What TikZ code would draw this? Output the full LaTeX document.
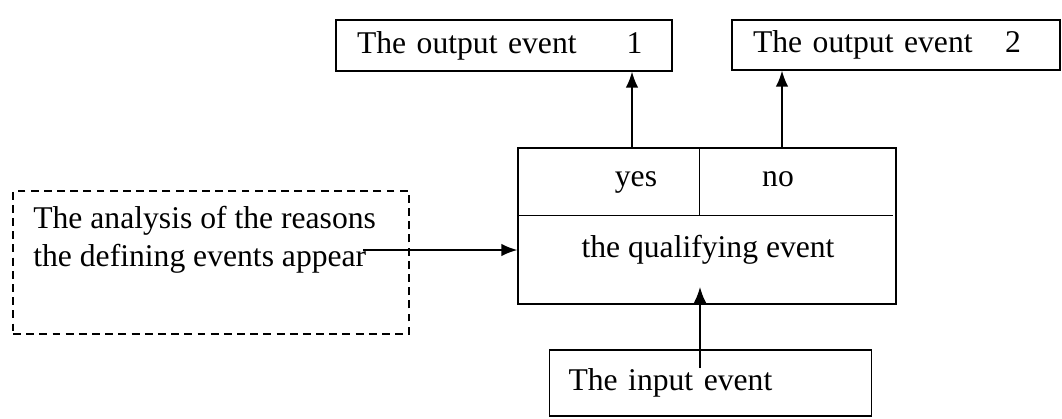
\documentclass[tikz,border=0pt]{standalone}
\usepackage{fontspec}
\setmainfont{Liberation Serif}
\usetikzlibrary{arrows.meta}

\tikzset{
	box/.style={draw, line width=0.8pt, inner sep=0pt},
	dashbox/.style={draw, line width=0.8pt, dash pattern=on 4.5pt off 3pt, inner sep=0pt},
	flow/.style={line width=0.8pt, -{Latex[length=9pt,width=7pt]}}
}

\begin{document}
\begin{tikzpicture}[font=\fontsize{18}{21.5}\selectfont]
		\useasboundingbox (0,0) rectangle (21.24,-8.36);
		
		% Ausgabe oben
		\node[box, minimum width=6.72cm, minimum height=1.02cm, text width=5.88cm, inner xsep=0.42cm, align=left] (out1) at (10.08,-0.91) {The output event\hspace{1.0cm}1};
		\node[box, minimum width=6.56cm, minimum height=1.0cm, text width=5.72cm, inner xsep=0.42cm, align=left] (out2) at (17.92,-0.90) {The output event\hspace{0.65cm}2};
		
		% Bedingung
		\node[box, minimum width=7.56cm, minimum height=3.12cm] (judge) at (14.14,-4.52) {};
		\draw[line width=0.8pt] ([yshift=-1.36cm]judge.north west) -- ([xshift=-0.08cm,yshift=-1.36cm]judge.north east);
		\draw[line width=0.8pt] ([xshift=3.64cm]judge.north west) -- ++(0,-1.36);
		\node[anchor=base] (yes) at (12.72,-3.72) {yes};
		\node[anchor=base] (no) at (15.56,-3.72) {no};
		\node (cond) at (14.16,-5.0) {the qualifying event};
		
		% Ursachen links
		\node[dashbox, minimum width=7.92cm, minimum height=2.86cm] (reason) at (4.22,-5.25) {};
		\node[anchor=north west, align=left, inner sep=0pt] (reasontxt) at (0.66,-4.12) {The analysis of the reasons\\the defining events appear};
		
		% Eingabe unten
		\node[box, minimum width=6.06cm, minimum height=1.32cm, text width=5.68cm, inner xsep=0.38cm, align=left] (input) at (14.21,-7.66) {The input event};
		
		% Pfeile
		\coordinate (yesup) at (12.64,-2.96);
		\coordinate (noup) at (15.64,-2.96);
		\coordinate (src) at (7.26,-5.0);
		\coordinate (inTail) at (14.0,-7.36);
		\coordinate (inHead) at (14.0,-5.74);
		\draw[flow] (yesup |- judge.north) -- (yesup |- out1.south);
		\draw[flow] (noup |- judge.north) -- (noup |- out2.south);
		\draw[flow] (src) -- (src -| judge.west);
		\draw[flow] (inTail) -- (inHead);
		
	\end{tikzpicture}
\end{document}
